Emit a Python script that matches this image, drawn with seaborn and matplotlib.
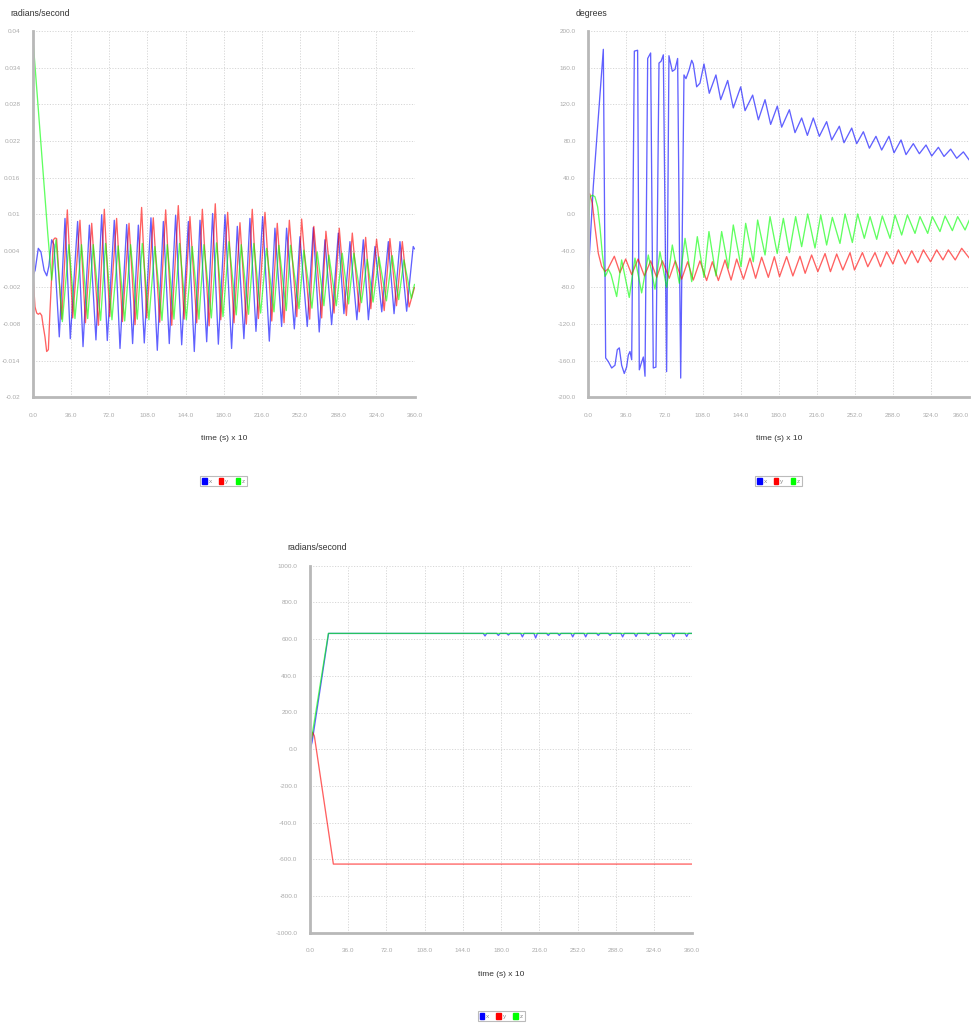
import matplotlib
matplotlib.use('Agg')
import matplotlib.pyplot as plt
from matplotlib.patches import Patch
import seaborn as sns
import pandas as pd

# ---------------- data (time x10, value) ----------------
# Chart 1: angular rate, radians/second
blue1 = [(0, 0.0), (2.0, 0.0008), (5.0, 0.0044), (7.5, 0.0038), (10.5, 0.0008), (13.0, -0.0001),
         (15.0, 0.0015), (17.6, 0.0058), (19.8, 0.0050), (24.8, -0.0101), (30.2, 0.0093),
         (35.2, -0.0104), (42.1, 0.0088), (47.2, -0.0117), (53.2, 0.0082), (59.4, -0.0106),
         (64.8, 0.0099), (70.1, -0.0107), (76.7, 0.0090), (82.1, -0.0120), (88.4, 0.0083),
         (94.0, -0.0112), (99.4, 0.0082), (105.0, -0.0111), (111.3, 0.0094), (117.3, -0.0123),
         (123.0, 0.0088), (128.6, -0.0112), (134.6, 0.0098), (140.3, -0.0114), (146.6, 0.0088),
         (152.2, -0.0125), (157.6, 0.0090), (163.9, -0.0109), (169.5, 0.0101), (174.9, -0.0113),
         (181.2, 0.0099), (187.4, -0.0120), (192.8, 0.0080), (199.0, -0.0104), (204.7, 0.0093),
         (210.4, -0.0092), (216.7, 0.0096), (223.0, -0.0108), (228.3, 0.0077), (234.6, -0.0084),
         (239.3, 0.0077), (246.6, -0.0088), (251.9, 0.0063), (258.8, -0.0084), (264.5, 0.0078),
         (270.1, -0.0093), (275.5, 0.0058), (281.8, -0.0081), (288.1, 0.0069), (293.4, -0.0063),
         (299.1, 0.0055), (305.6, -0.0073), (311.7, 0.0058), (316.5, -0.0073), (322.7, 0.0047),
         (329.1, -0.0060), (335.3, 0.0055), (340.7, -0.0063), (346.3, 0.0055), (352.6, -0.0059),
         (358.8, 0.0047), (360, 0.0043)]
red1 = [(0, 0.0), (1.9, -0.0052), (3.5, -0.0062), (5.0, -0.0064), (6.6, -0.0062), (8.2, -0.0066),
        (9.7, -0.0084), (11.3, -0.0101), (12.9, -0.0125), (14.5, -0.0122), (16.0, -0.0060),
        (17.6, -0.0003), (19.2, 0.0058), (20.8, 0.0061), (22.3, 0.0060), (27.1, -0.0072),
        (32.4, 0.0107), (37.5, -0.0070), (44.3, 0.0090), (49.5, -0.0078), (55.4, 0.0085),
        (61.7, -0.0082), (67.3, 0.0108), (72.4, -0.0068), (78.9, 0.0093), (84.4, -0.0076),
        (90.6, 0.0085), (96.3, -0.0081), (102.5, 0.0111), (107.3, -0.0070), (113.5, 0.0094),
        (119.6, -0.0077), (125.2, 0.0107), (130.9, -0.0082), (137.1, 0.0114), (142.6, -0.0072),
        (148.1, 0.0096), (154.5, -0.0078), (159.8, 0.0108), (166.2, -0.0083), (172.0, 0.0117),
        (177.2, -0.0073), (183.7, 0.0103), (189.7, -0.0078), (195.3, 0.0086), (201.3, -0.0080),
        (206.9, 0.0108), (212.7, -0.0071), (218.9, 0.0103), (225.3, -0.0075), (230.5, 0.0085),
        (236.9, -0.0078), (241.9, 0.0090), (248.9, -0.0068), (253.5, 0.0092), (261.1, -0.0072),
        (265.0, 0.0080), (272.4, -0.0070), (276.4, 0.0072), (284.1, -0.0062), (289.0, 0.0077),
        (295.7, -0.0066), (301.3, 0.0069), (307.9, -0.0060), (313.9, 0.0062), (318.8, -0.0055),
        (324.2, 0.0059), (331.4, -0.0058), (336.8, 0.0060), (343.0, -0.0050), (348.5, 0.0055),
        (354.9, -0.0052), (360, -0.0020)]
green1 = [(0, 0.0386), (13.9, 0.0069), (17.6, -0.0008), (21.7, 0.0058), (27.7, -0.0076),
          (33.9, 0.0050), (39.6, -0.0071), (45.8, 0.0050), (51.6, -0.0071), (56.9, 0.0050),
          (63.8, -0.0074), (68.5, 0.0052), (74.5, -0.0073), (80.4, 0.0048), (86.5, -0.0075),
          (92.1, 0.0050), (98.4, -0.0072), (103.1, 0.0052), (109.4, -0.0073), (115.0, 0.0047),
          (121.7, -0.0074), (126.7, 0.0050), (133.0, -0.0072), (138.3, 0.0052), (144.7, -0.0073),
          (150.3, 0.0047), (156.6, -0.0072), (161.3, 0.0050), (168.3, -0.0070), (173.2, 0.0053),
          (179.3, -0.0068), (184.9, 0.0055), (191.8, -0.0065), (196.5, 0.0050), (203.4, -0.0064),
          (208.4, 0.0052), (214.8, -0.0062), (220.4, 0.0044), (227.4, -0.0060), (232.0, 0.0049),
          (239.0, -0.0058), (243.0, 0.0049), (251.0, -0.0055), (255.6, 0.0041), (263.2, -0.0054),
          (268.2, 0.0038), (274.5, -0.0050), (279.2, 0.0033), (286.2, -0.0050), (291.8, 0.0036),
          (297.8, -0.0047), (302.8, 0.0036), (310.0, -0.0045), (315.4, 0.0026), (320.9, -0.0044),
          (326.4, 0.0030), (333.5, -0.0042), (339.0, 0.0032), (345.1, -0.0040), (350.0, 0.0025),
          (357.0, -0.0038), (360, -0.0015)]

# Chart 2: attitude, degrees
blue2 = [(0, -66), (4.7, 30), (7.9, 81), (11.0, 130), (14.2, 180), (16.4, -157), (18.9, -161),
         (22.1, -168), (25.2, -165), (27.4, -148), (29.3, -146), (31.5, -165), (34.0, -174),
         (36.2, -167), (37.8, -154), (39.4, -150), (41.0, -159), (43.5, 178), (46.6, 179),
         (48.2, -170), (50.0, -163), (52.0, -156), (53.6, -177), (56.1, 170), (58.9, 176),
         (61.4, -168), (63.9, -167), (66.8, 165), (68.8, 167), (70.9, 174), (74.0, -172),
         (76.2, 173), (79.4, 156), (81.9, 158), (84.4, 170), (87.3, -179), (90.4, 152),
         (92.3, 148), (95.1, 157), (97.7, 168), (99.2, 164), (102.4, 139), (105.5, 143),
         (109.3, 164), (114.3, 132), (120.6, 152), (125.1, 125), (131.7, 146), (137.0, 116),
         (144.0, 139), (148.1, 113), (155.3, 130), (160.7, 103), (167.0, 125), (172.3, 98),
         (178.6, 118), (182.7, 95), (190.0, 114), (195.3, 89), (201.6, 105), (207.0, 86),
         (212.6, 105), (218.3, 85), (225.2, 101), (230.0, 81), (237.2, 96), (241.6, 78),
         (248.9, 94), (253.6, 77), (259.9, 90), (265.6, 72), (271.8, 85), (277.2, 70),
         (284.1, 85), (288.9, 67), (295.5, 81), (300.2, 65), (307.1, 77), (312.8, 66),
         (319.1, 75.5), (324.5, 63.5), (330.8, 73), (336.1, 63), (342.4, 71), (348.1, 61),
         (354.4, 68), (360, 59)]
red2 = [(0, 22), (1.5, 22), (3.8, 12), (6.3, -14), (9.5, -43), (12.6, -57), (15.8, -62.5),
        (18.5, -60), (21.5, -53), (24.6, -46), (29.9, -64), (35.3, -49), (41.0, -66),
        (47.0, -49), (53.0, -67.5), (58.9, -51), (64.6, -69), (70.0, -51), (76.5, -70),
        (82.2, -51), (88.2, -71), (93.9, -52), (99.2, -72), (105.5, -51), (111.8, -72.5),
        (117.2, -52), (122.9, -72.5), (129.2, -50), (134.9, -72), (140.2, -49), (146.6, -71),
        (152.8, -48), (158.1, -70), (163.8, -47), (170.1, -69), (175.8, -46.5), (180.7, -68.3),
        (187.4, -46.4), (193.3, -67.5), (200.0, -46), (204.9, -64.6), (211.0, -44.6),
        (216.9, -62.8), (223.7, -43), (228.8, -62.8), (234.7, -43.5), (240.5, -61),
        (247.3, -42), (251.5, -61), (259.0, -42), (264.1, -57.4), (270.9, -42), (276.1, -57.4),
        (281.9, -41), (287.8, -54.4), (293.0, -39), (299.5, -54.4), (305.6, -40), (311.4, -53),
        (316.6, -39), (323.4, -52), (329.2, -39), (335.1, -50), (340.2, -39), (346.7, -50),
        (352.8, -37.3), (360, -48)]
green2 = [(0, -13.7), (1.6, 19), (3.8, 20.7), (6.3, 19), (8.8, 8), (11.0, -14), (13.2, -43),
          (15.8, -68), (17.3, -65), (18.9, -60), (21.5, -66), (26.8, -90), (31.5, -50),
          (38.7, -91), (44.1, -48), (50.4, -86), (56.7, -44.6), (63.0, -82), (67.7, -41),
          (74.0, -80), (79.4, -33.7), (86.0, -75.5), (91.4, -26.4), (97.7, -73.7), (103.0, -24.6),
          (109.3, -69), (114.0, -19), (120.6, -67.5), (126.0, -19), (132.3, -59), (137.0, -11.8),
          (144.3, -57.4), (148.7, -10), (155.9, -52), (160.0, -6.4), (167.0, -44.6),
          (171.7, -2.7), (178.5, -43), (184.3, -4.6), (190.0, -42), (195.9, -2.7),
          (201.6, -35.5), (207.3, 0.2), (214.2, -37), (219.6, -0.9), (225.2, -33.7),
          (230.6, -3.5), (237.8, -32), (242.6, 0.2), (249.5, -31), (254.5, 0.2), (260.8, -26.4),
          (266.2, -2.7), (272.5, -27.5), (277.8, -2), (285.1, -26.4), (289.8, -0.9),
          (296.1, -22.8), (301.5, -0.9), (308.7, -21), (313.4, -2.7), (320.7, -21),
          (325.1, -2.7), (332.3, -19), (337.1, -2), (344.0, -18), (349.0, -2.7), (356.0, -17.3),
          (360, -6.4)]

# Chart 3: wheel / rotor rate, radians/second
blue3 = [(0, -5), (2.0, 40), (17.5, 631), (163.2, 631), (164.8, 617), (166.4, 631), (175.8, 631),
         (177.4, 620), (179.0, 631), (185.2, 631), (186.8, 622), (188.4, 631), (198.4, 631),
         (200.0, 612), (201.6, 631), (210.9, 631), (212.5, 606), (214.1, 631), (222.8, 631),
         (224.4, 620), (226.0, 631), (233.2, 631), (234.8, 620), (236.4, 631), (245.8, 631),
         (247.4, 612), (249.0, 631), (258.0, 631), (259.6, 612), (261.2, 631), (269.9, 631),
         (271.5, 620), (273.1, 631), (280.9, 631), (282.5, 620), (284.1, 631), (292.8, 631),
         (294.4, 612), (296.0, 631), (305.4, 631), (307.0, 614), (308.6, 631), (317.0, 631),
         (318.6, 620), (320.2, 631), (328.0, 631), (329.6, 619), (331.2, 631), (340.6, 631),
         (342.2, 612), (343.8, 631), (353.1, 631), (354.7, 614), (356.3, 631), (360, 631)]
red3 = [(0, 20), (2.5, 92), (4.1, 72), (22.0, -626), (360, -626)]
green3 = [(0, 5), (17.3, 631), (360, 631)]

x_ticks = [0, 36, 72, 108, 144, 180, 216, 252, 288, 324, 360]
x_tick_labels = ['0.0', '36.0', '72.0', '108.0', '144.0', '180.0', '216.0', '252.0', '288.0', '324.0', '360.0']
y1_ticks = [0.04, 0.034, 0.028, 0.022, 0.016, 0.01, 0.004, -0.002, -0.008, -0.014, -0.02]
y1_labels = ['0.04', '0.034', '0.028', '0.022', '0.016', '0.01', '0.004', '-0.002', '-0.008', '-0.014', '-0.02']
y2_ticks = [200, 160, 120, 80, 40, 0, -40, -80, -120, -160, -200]
y2_labels = ['200.0', '160.0', '120.0', '80.0', '40.0', '0.0', '-40.0', '-80.0', '-120.0', '-160.0', '-200.0']
y3_ticks = [1000, 800, 600, 400, 200, 0, -200, -400, -600, -800, -1000]
y3_labels = ['1000.0', '800.0', '600.0', '400.0', '200.0', '0.0', '-200.0', '-400.0', '-600.0', '-800.0', '-1000.0']
series_names = ['x', 'y', 'z']
titles = ['radians/second', 'degrees', 'radians/second']
x_title = 'time (s) x 10'

# ---------------- style ----------------
sns.set_theme(style='white')
plt.rcParams['font.family'] = ['Liberation Sans', 'DejaVu Sans']

LINE_COLORS = ['#0000ff', '#ff0000', '#00ff00']
W, H = 976, 1023
fig = plt.figure(figsize=(W / 100, H / 100), dpi=100)


def make_axes(l, t, r, b):
    return fig.add_axes([l / W, 1 - b / H, (r - l) / W, (b - t) / H])


def draw(ax, series, yticks, ylabels, title, title_x, title_y):
    for pts, col in zip(series, LINE_COLORS):
        df = pd.DataFrame(pts, columns=['t', 'v'])
        sns.lineplot(data=df, x='t', y='v', ax=ax, color=col, alpha=0.62, lw=0.95,
                     estimator=None, sort=False)
    ax.set_xlim(0, 360)
    ax.set_ylim(yticks[-1], yticks[0])
    ax.set_xticks(x_ticks)
    ax.set_xticklabels(x_tick_labels)
    ax.set_yticks(yticks)
    ax.set_yticklabels(ylabels)
    ax.grid(True, linestyle=(0, (1.2, 1.6)), color='#d6d6d6', lw=0.7)
    ax.set_axisbelow(True)
    for s in ['top', 'right']:
        ax.spines[s].set_visible(False)
    for s in ['left', 'bottom']:
        ax.spines[s].set_color('#b8b8b8')
        ax.spines[s].set_linewidth(2.0)
    ax.tick_params(axis='both', length=0, labelsize=4.6, labelcolor='#aaaaaa')
    ax.tick_params(axis='y', pad=9)
    ax.tick_params(axis='x', pad=11)
    ax.set_ylabel('')
    ax.set_xlabel(x_title, fontsize=6, color='#333333')
    ax.xaxis.set_label_coords(0.5, -0.103)
    fig.text(title_x / W, 1 - title_y / H, title, fontsize=6.3, color='#333333',
             ha='left', va='center')
    handles = [Patch(facecolor=c, edgecolor=c, label=n) for c, n in zip(LINE_COLORS, series_names)]
    leg = ax.legend(handles=handles, loc='center', bbox_to_anchor=(0.5, -0.228), ncol=3,
                    fontsize=4.5, handlelength=0.7, handleheight=1.1, handletextpad=0.3,
                    columnspacing=1.2, borderpad=0.3, borderaxespad=0, frameon=True,
                    fancybox=False, labelcolor='#888888')
    leg.get_frame().set_edgecolor('#aaaaaa')
    leg.get_frame().set_linewidth(0.8)


ax1 = make_axes(33, 31, 414.5, 397.3)
draw(ax1, [blue1, red1, green1], y1_ticks, y1_labels, titles[0], 10, 13)

ax2 = make_axes(588.3, 31, 969.3, 397.3)
draw(ax2, [blue2, red2, green2], y2_ticks, y2_labels, titles[1], 576, 13)
# keep the last x tick label inside the canvas, as in the reference
ax2.get_xticklabels()[-1].set_horizontalalignment('right')
ax2.get_xticklabels()[-1].set_x(363.5)

ax3 = make_axes(310, 565.7, 692.3, 932.7)
draw(ax3, [blue3, red3, green3], y3_ticks, y3_labels, titles[2], 287, 547)

fig.savefig('out.png', dpi=100, facecolor='white')
